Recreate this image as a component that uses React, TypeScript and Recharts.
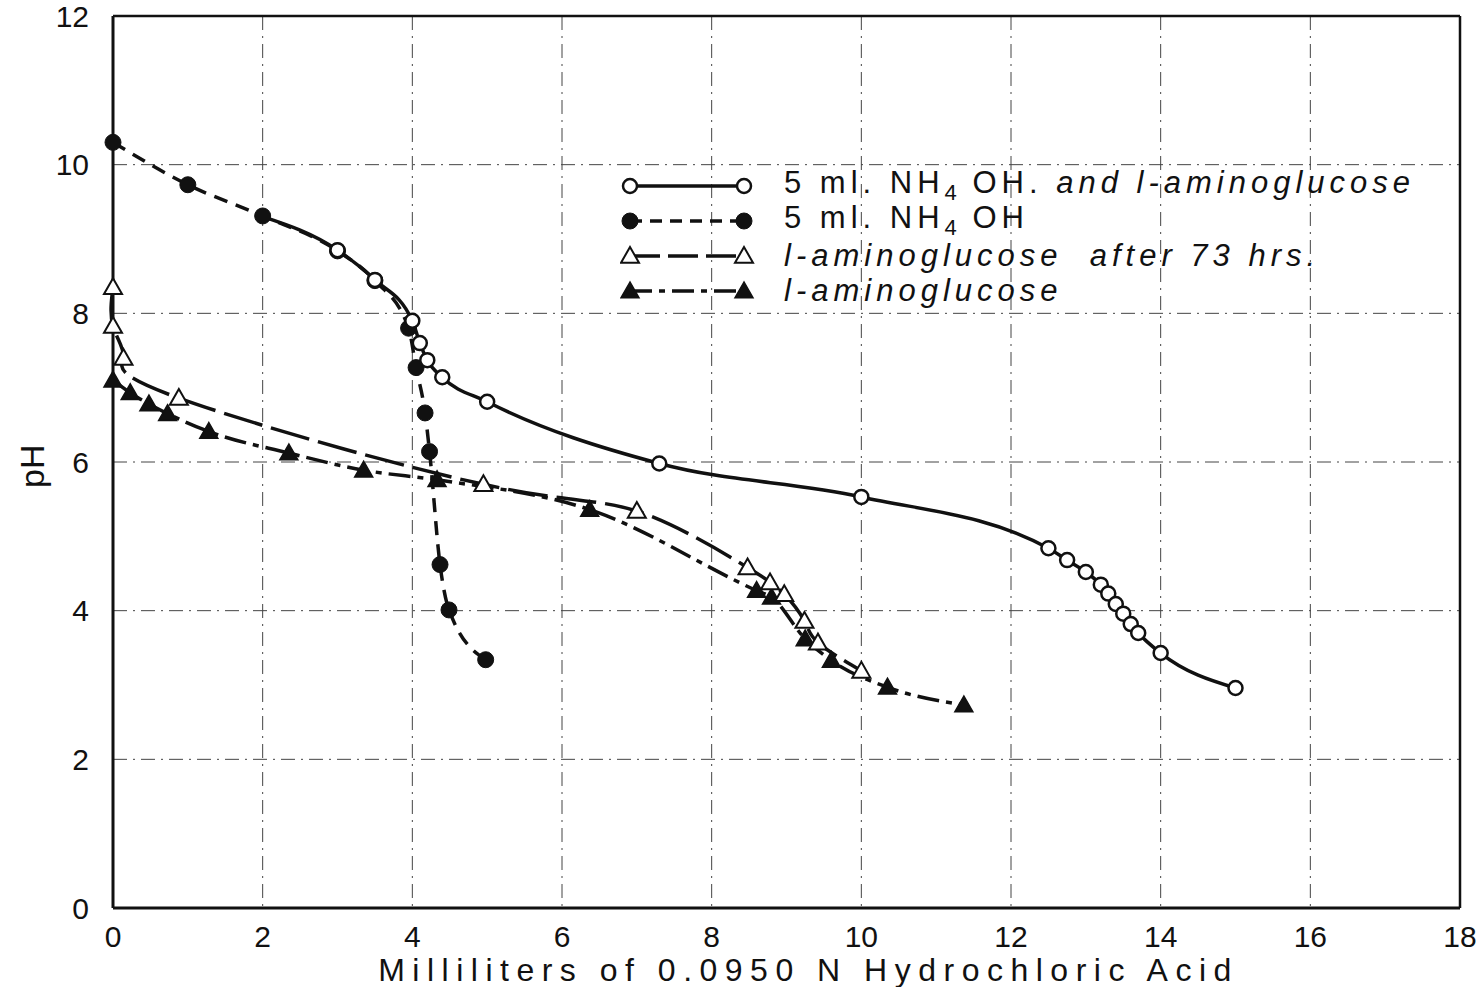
import { CartesianGrid, Legend, Line, LineChart, ReferenceLine, XAxis, YAxis } from "recharts";

const xTicks = [0, 2, 4, 6, 8, 10, 12, 14, 16, 18];
const yTicks = [0, 2, 4, 6, 8, 10, 12];

// 5 ml NH4OH and l-aminoglucose (open circles)
const mixMl = [2, 3, 3.5, 4, 4.1, 4.2, 4.4, 5, 7.3, 10, 12.5, 12.75, 13, 13.2, 13.3, 13.4, 13.5, 13.6, 13.7, 14, 15];
const mixPh = [9.3, 8.85, 8.45, 7.9, 7.6, 7.37, 7.14, 6.81, 5.98, 5.53, 4.84, 4.68, 4.52, 4.35, 4.23, 4.09, 3.96, 3.82, 3.7, 3.43, 2.96];

// 5 ml NH4OH alone (filled circles)
const ammMl = [0, 1, 2, 3, 3.5, 3.95, 4.05, 4.17, 4.23, 4.37, 4.49, 4.98];
const ammPh = [10.3, 9.73, 9.31, 8.84, 8.44, 7.8, 7.27, 6.66, 6.14, 4.62, 4.01, 3.34];

// l-aminoglucose after 73 hrs (open triangles)
const agedMl = [0, 0, 0.14, 0.88, 4.95, 7.0, 8.48, 8.78, 8.97, 9.24, 9.42, 10.0];
const agedPh = [8.35, 7.83, 7.4, 6.86, 5.7, 5.34, 4.58, 4.38, 4.22, 3.86, 3.57, 3.19];

// l-aminoglucose (filled triangles)
const freshMl = [0, 0.23, 0.48, 0.73, 1.28, 2.35, 3.35, 4.33, 6.37, 8.6, 8.8, 9.25, 9.6, 10.35, 11.37];
const freshPh = [7.1, 6.93, 6.78, 6.65, 6.41, 6.12, 5.89, 5.76, 5.36, 4.27, 4.18, 3.62, 3.33, 2.97, 2.73];

const zip = (ml: number[], ph: number[]) => ml.map((x, i) => ({ ml: x, ph: ph[i] }));

const mixData = zip(mixMl, mixPh);
const ammData = zip(ammMl, ammPh);
const agedData = zip(agedMl, agedPh);
const freshData = zip(freshMl, freshPh);

const INK = "#111";
const FONT = "'Liberation Sans', Arial, sans-serif";

function marker(kind: string, cx: number, cy: number, key?: any) {
  if (kind === "openCircle")
    return <circle key={key} cx={cx} cy={cy} r={7} fill="#fff" stroke={INK} strokeWidth={2.5} />;
  if (kind === "filledCircle")
    return <circle key={key} cx={cx} cy={cy} r={8} fill={INK} stroke={INK} strokeWidth={1} />;
  const s = 9;
  const pts = `${cx},${cy - s} ${cx - s},${cy + s * 0.75} ${cx + s},${cy + s * 0.75}`;
  if (kind === "openTriangle")
    return <polygon key={key} points={pts} fill="#fff" stroke={INK} strokeWidth={2} />;
  return <polygon key={key} points={pts} fill={INK} stroke={INK} strokeWidth={1.5} />;
}

const dotOf = (kind: string, skipFirst = false) => (p: any) =>
  skipFirst && p.index === 0 ? <g key={p.index} /> : marker(kind, p.cx, p.cy, p.index);

const legendRows = [
  { kind: "openCircle", dash: undefined, pre: "5 ml. NH", sub: "4", post: " OH.", italic: " and l-aminoglucose" },
  { kind: "filledCircle", dash: "12 8", pre: "5 ml. NH", sub: "4", post: " OH", italic: "" },
  { kind: "openTriangle", dash: "30 8", pre: "", sub: "", post: "", italic: "l-aminoglucose  after 73 hrs." },
  { kind: "filledTriangle", dash: "22 7 6 7", pre: "", sub: "", post: "", italic: "l-aminoglucose" },
];

function LegendBox() {
  return (
    <div style={{ fontFamily: FONT, fontSize: 31, color: INK, letterSpacing: 5 }}>
      {legendRows.map((r) => (
        <div key={r.kind} style={{ display: "flex", alignItems: "center", height: 35 }}>
          <svg width={140} height={26} style={{ marginRight: 24 }}>
            <line x1={10} y1={13} x2={124} y2={13} stroke={INK} strokeWidth={3.5} strokeDasharray={r.dash} />
            {marker(r.kind, 10, 13)}
            {marker(r.kind, 124, 13)}
          </svg>
          <span style={{ whiteSpace: "pre" }}>
            {r.pre}
            {r.sub && <sub style={{ fontSize: 22, letterSpacing: 2 }}>{r.sub}</sub>}
            {r.post}
            {r.italic && <i>{r.italic}</i>}
          </span>
        </div>
      ))}
    </div>
  );
}

const tickStyle = { fontSize: 30, fill: INK, fontFamily: FONT };

export default function App() {
  return (
    <div style={{ position: "absolute", left: 0, top: 0, background: "#fff" }}>
      <LineChart width={1477} height={987} margin={{ top: 16, right: 17, left: 0, bottom: 0 }}>
        <CartesianGrid stroke="#444" strokeWidth={1} strokeDasharray="14 6 2 6" />
        <XAxis
          type="number"
          dataKey="ml"
          domain={[0, 18]}
          ticks={xTicks}
          interval={0}
          height={79}
          tickLine={false}
          tickMargin={12}
          tick={tickStyle}
          axisLine={{ stroke: INK, strokeWidth: 3 }}
          label={{
            value: "Milliliters of 0.0950 N Hydrochloric Acid",
            position: "insideBottom",
            offset: 6,
            dx: 22,
            fontSize: 32,
            letterSpacing: 7.5,
            fill: INK,
            fontFamily: FONT,
          }}
        />
        <YAxis
          type="number"
          dataKey="ph"
          domain={[0, 12]}
          ticks={yTicks}
          interval={0}
          width={113}
          tickLine={false}
          tickMargin={18}
          tick={tickStyle}
          axisLine={{ stroke: INK, strokeWidth: 3 }}
          label={{
            value: "pH",
            angle: -90,
            position: "insideLeft",
            offset: 32,
            dy: 26,
            fontSize: 34,
            fill: INK,
            fontFamily: FONT,
          }}
        />
        <ReferenceLine x={18} stroke={INK} strokeWidth={2.5} />
        <ReferenceLine y={12} stroke={INK} strokeWidth={2.5} />
        <Legend
          layout="horizontal"
          verticalAlign="middle"
          align="center"
          content={<LegendBox />}
          wrapperStyle={{ position: "absolute", top: 168, left: 620, width: 850 }}
        />
        <Line
          data={freshData}
          dataKey="ph"
          name="l-aminoglucose"
          type="monotone"
          stroke={INK}
          strokeWidth={3.5}
          strokeDasharray="22 7 6 7"
          dot={dotOf("filledTriangle")}
          isAnimationActive={false}
        />
        <Line
          data={agedData}
          dataKey="ph"
          name="l-aminoglucose after 73 hrs."
          type="natural"
          stroke={INK}
          strokeWidth={3.5}
          strokeDasharray="40 9"
          dot={dotOf("openTriangle")}
          isAnimationActive={false}
        />
        <Line
          data={ammData}
          dataKey="ph"
          name="5 ml. NH4OH"
          type="monotone"
          stroke={INK}
          strokeWidth={3.5}
          strokeDasharray="14 9"
          dot={dotOf("filledCircle")}
          isAnimationActive={false}
        />
        <Line
          data={mixData}
          dataKey="ph"
          name="5 ml. NH4OH and l-aminoglucose"
          type="monotone"
          stroke={INK}
          strokeWidth={3.5}
          dot={dotOf("openCircle", true)}
          isAnimationActive={false}
        />
      </LineChart>
    </div>
  );
}
